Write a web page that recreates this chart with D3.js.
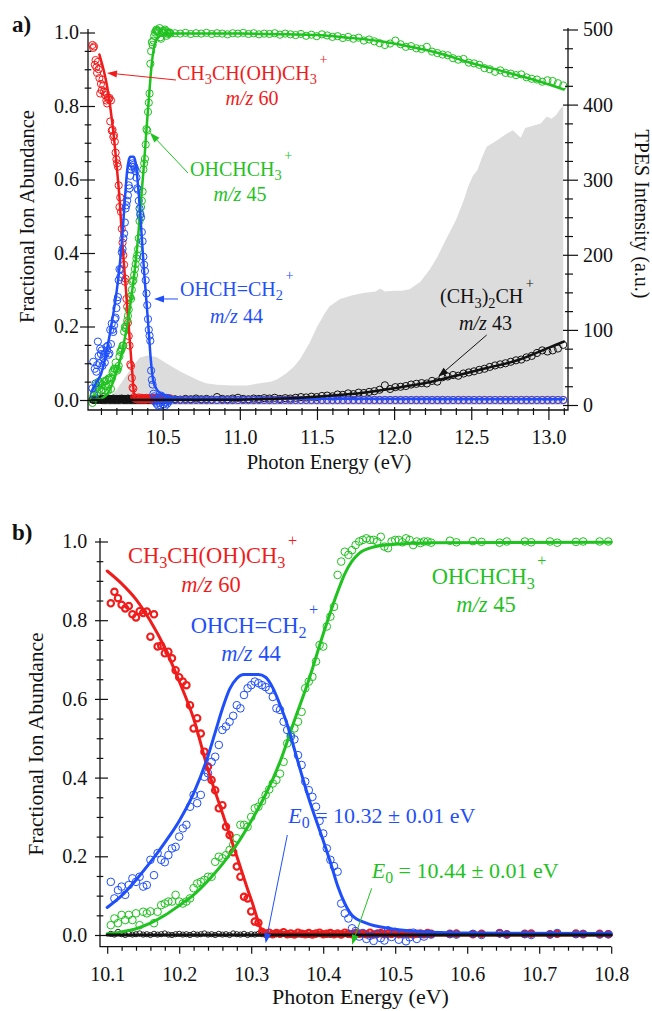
<!DOCTYPE html>
<html>
<head>
<meta charset="utf-8">
<script src="https://cdn.jsdelivr.net/npm/d3@7"></script>
<style>
  body { margin: 0; background: #fff; }
</style>
</head>
<body>
<svg id="chart" width="652" height="1011"></svg>
<script>
// ---------- data ----------

// dense scan 10.105 - 10.55 eV plus a few sparse points (panel b, reused in panel a)
var eB = [
  10.105,10.110,10.115,10.120,10.125,10.130,10.135,10.140,10.145,10.150,
  10.155,10.160,10.165,10.170,10.175,10.180,10.185,10.190,10.195,10.200,
  10.205,10.210,10.215,10.220,10.225,10.230,10.235,10.240,10.245,10.250,
  10.255,10.260,10.265,10.270,10.275,10.280,10.285,10.290,10.295,10.300,
  10.305,10.310,10.315,10.320,10.325,10.330,10.335,10.340,10.345,10.350,
  10.355,10.360,10.365,10.370,10.375,10.380,10.385,10.390,10.395,10.400,
  10.405,10.410,10.415,10.420,10.425,10.430,10.435,10.440,10.445,10.450,
  10.455,10.460,10.465,10.470,10.475,10.480,10.485,10.490,10.495,10.500,
  10.505,10.510,10.515,10.520,10.525,10.530,10.535,10.540,10.545,10.550,
  10.576,10.585,10.608,10.620,10.645,10.655,10.680,10.689,10.715,10.725,10.751,10.761,10.784,10.796
];
var redB = [
  .843,.872,.856,.839,.830,.836,.815,.807,.823,.818,
  .822,.758,.815,.733,.735,.716,.720,.703,.673,.655,
  .644,.635,.584,.525,.551,.512,.466,.428,.394,.368,
  .322,.330,.275,.254,.210,.174,.148,.097,.093,.060,
  .034,.031,.008,.004,.006,.002,.005,.003,.007,.002,
  .004,.001,.006,.003,.002,.005,.001,.004,.006,.002,
  .003,.005,.002,.004,.001,.006,.003,.002,.005,.003,
  .004,.002,.006,.001,.003,.005,.002,.004,.003,.006,
  .002,.004,.003,.005,.001,.003,.004,.002,.005,.003,
  .003,.004,.002,.003,.005,.002,.003,.004,.002,.003,.004,.002,.003,.002
];
var blueB = [
  .135,.093,.114,.123,.102,.127,.144,.135,.148,.123,
  .127,.191,.152,.208,.191,.185,.203,.220,.224,.250,
  .271,.280,.326,.356,.335,.356,.402,.411,.440,.453,
  .483,.521,.530,.542,.557,.584,.576,.610,.627,.635,
  .644,.640,.635,.630,.623,.605,.576,.572,.542,.521,
  .504,.497,.457,.432,.390,.368,.351,.326,.290,.258,
  .220,.191,.175,.161,.080,.055,.042,.017,.010,-.004,
  .005,-.010,-.002,-.015,.003,-.008,-.014,.012,-.005,.008,
  -.012,.004,-.016,-.006,.006,-.010,.002,-.004,.003,.001,
  .002,.001,.003,.000,.004,.001,.002,.000,.001,.005,.002,.003,.001,.002
];
var greenB = [
  .025,.042,.030,.051,.038,.051,.038,.055,.025,.059,
  .055,.060,.030,.059,.076,.080,.085,.085,.102,.085,
  .080,.085,.093,.119,.131,.135,.140,.148,.148,.186,
  .199,.195,.203,.216,.229,.246,.280,.280,.275,.300,
  .322,.326,.340,.356,.370,.385,.394,.410,.440,.487,
  .508,.525,.542,.567,.627,.644,.656,.695,.737,.733,
  .784,.809,.834,.915,.949,.974,.966,.978,.991,1.000,
  1.004,1.008,1.004,1.004,1.000,1.012,.987,.983,1.000,1.004,
  1.004,.998,1.008,1.004,.991,1.000,.996,1.000,1.000,.997,
  1.002,.998,1.001,.999,.997,1.000,1.000,.998,1.000,.997,.999,1.000,1.000,1.000
];
var blackB = [
  .003,.001,.008,.002,.000,.003,.001,.002,.004,.001,
  .002,.000,.003,.001,.002,.004,.001,.000,.002,.003,
  .001,.002,.000,.003,.001,.002,.004,.001,.002,.000,
  .003,.001,.002,.000,.004,.002,.001,.003,.000,.002,
  .001,.003,.002,.000,.001,.004,.002,.001,.003,.002,
  .000,.002,.001,.003,.002,.000,.004,.001,.002,.003,
  .001,.000,.002,.003,.001,.002,.000,.004,.002,.001,
  .003,.002,.000,.001,.004,.002,.003,.001,.000,.002,
  .002,.001,.003,.000,.002,.004,.001,.002,.003,.001,
  .002,.001,.003,.002,.001,.002,.003,.001,.002,.001,.002,.003,.001,.002
];

// panel a: points below 10.1 eV
var eTopLow     = [10.045,10.050,10.055,10.060,10.065,10.070,10.075,10.080,10.085,10.090,10.095,10.100];
var redTopLow   = [.966,.958,.962,.912,.925,.905,.890,.920,.900,.876,.834,.860];
var blueTopLow  = [.032,.104,.014,.085,.045,.077,.095,.159,.120,.100,.140,.125];
var greenTopLow = [-.008,.010,.020,.005,.030,.041,.020,.035,.050,.030,.045,.040];
var blackTopLow = [.001,.002,.000,.003,.001,.002,.000,.001,.003,.002,.001,.000];

// panel a: points above 10.55 eV
var eTopHigh = [
  10.580,10.614,10.648,10.682,10.716,10.750,10.784,10.818,10.852,10.886,
  10.920,10.954,10.988,11.022,11.056,11.090,11.124,11.158,11.192,11.226,
  11.260,11.294,11.328,11.362,11.396,11.430,11.464,11.498,11.532,11.566,
  11.600,11.634,11.668,11.702,11.736,11.770,11.804,11.838,11.872,11.906,
  11.940,11.974,12.008,12.042,12.076,12.110,12.144,12.178,12.212,12.246,
  12.280,12.314,12.348,12.382,12.416,12.450,12.484,12.518,12.552,12.586,
  12.620,12.654,12.688,12.722,12.756,12.790,12.824,12.858,12.892,12.926,
  12.960,12.994,13.028,13.062,13.096
];
var greenTopHigh = [
  .998,.997,.999,.996,.998,.997,.999,.996,.998,.997,
  .995,.998,.997,.999,.996,.998,.995,.997,.996,.998,
  .994,.997,.995,.993,.996,.991,.994,.990,.995,.992,
  .988,.990,.985,.988,.983,.986,.978,.981,.976,.971,
  .966,.970,.978,.968,.961,.963,.957,.955,.961,.948,
  .944,.940,.938,.930,.926,.928,.918,.916,.912,.903,
  .900,.893,.897,.890,.888,.884,.886,.878,.874,.872,
  .866,.870,.868,.862,.856
];
var blackTopHigh = [
  .002,.001,.003,.002,.004,.002,.003,.001,.008,.003,
  .002,.004,.006,.003,.002,.004,.003,.005,.004,.006,
  .003,.005,.004,.006,.008,.007,.009,.008,.011,.012,
  .010,.015,.014,.018,.016,.020,.019,.022,.024,.028,
  .040,.030,.035,.036,.038,.042,.044,.046,.045,.052,
  .050,.062,.064,.068,.066,.072,.075,.078,.082,.085,
  .090,.094,.097,.100,.104,.108,.110,.116,.120,.128,
  .135,.132,.135,.140,.150
];
// m/z 60 and m/z 44 both read as zero above 10.55 eV
var zeroTopHigh = [
  0,0,0,0,0,0,0,0,0,0, 0,0,0,0,0,0,0,0,0,0, 0,0,0,0,0,0,0,0,0,0,
  0,0,0,0,0,0,0,0,0,0, 0,0,0,0,0,0,0,0,0,0, 0,0,0,0,0,0,0,0,0,0,
  0,0,0,0,0,0,0,0,0,0, 0,0,0,0,0
];

// TPES spectrum (grey, right axis)
var tpesE = [10.10,10.15,10.20,10.26,10.30,10.35,10.40,10.46,10.52,10.57,10.62,10.68,10.73,10.78,10.85,10.95,
  11.05,11.10,11.13,11.20,11.24,11.30,11.35,11.39,11.45,11.50,11.55,11.58,11.65,11.73,11.80,11.88,11.91,11.94,
  12.00,12.05,12.10,12.17,12.23,12.28,12.33,12.40,12.45,12.48,12.51,12.54,12.57,12.60,12.67,12.72,12.77,12.80,
  12.82,12.85,12.90,12.95,12.99,13.02,13.05,13.08,13.096];
var tpesI = [0,8,20,38,50,63,66,64,56,50,44,38,33,29,27,26,
  26,28,29,31,34,42,51,61,82,104,122,131,141,146,149,151,155,151,
  152,152,154,164,180,197,218,246,272,291,305,313,330,344,353,360,366,360,
  356,369,372,375,384,381,386,395,398];

// model fits
var fitRedB   = [[10.10,.925],[10.12,.893],[10.14,.853],[10.16,.798],[10.18,.73],[10.20,.645],[10.22,.55],
                 [10.24,.42],[10.26,.31],[10.28,.20],[10.30,.09],[10.32,0],[10.80,0]];
var fitBlueB  = [[10.10,.07],[10.12,.10],[10.14,.14],[10.16,.185],[10.18,.235],[10.20,.29],[10.22,.36],[10.24,.455],
                 [10.25,.515],[10.26,.575],[10.27,.625],[10.28,.652],[10.29,.662],[10.31,.662],[10.32,.655],[10.33,.628],
                 [10.34,.585],[10.35,.535],[10.36,.472],[10.37,.408],[10.38,.347],[10.39,.293],[10.40,.24],[10.41,.185],
                 [10.42,.125],[10.43,.08],[10.44,.05],[10.46,.03],[10.49,.017],[10.53,.009],[10.60,.005],[10.80,.004]];
var fitGreenB = [[10.10,.003],[10.12,.008],[10.14,.016],[10.16,.03],[10.18,.05],[10.20,.075],[10.22,.102],[10.24,.138],
                 [10.26,.18],[10.28,.23],[10.30,.29],[10.32,.357],[10.34,.44],[10.36,.545],[10.38,.648],[10.40,.765],
                 [10.42,.872],[10.43,.918],[10.44,.95],[10.45,.97],[10.47,.986],[10.50,.993],[10.55,.997],[10.80,.998]];
var fitBlackB = [[10.10,0],[10.80,0]];

var fitRedTopStart   = [[10.09,.94]];
var fitBlueTopStart  = [[10.04,.023],[10.07,.048]];
var fitGreenTopStart = [[10.04,0],[10.07,.001]];
var fitGreenTopHigh  = [[10.8,.997],[11.0,.997],[11.3,.995],[11.5,.993],[11.7,.986],[11.9,.977],[12.1,.962],
                        [12.3,.943],[12.5,.917],[12.7,.895],[12.9,.872],[13.1,.845]];
var fitBlackTop      = [[10.04,0],[11.0,.001],[11.2,.003],[11.4,.006],[11.6,.012],[11.8,.02],[12.0,.032],[12.2,.046],
                        [12.4,.066],[12.6,.087],[12.8,.108],[13.0,.142],[13.1,.159]];

// tick labels
var fracTicks = [0, 0.2, 0.4, 0.6, 0.8, 1.0];
var tpesTicks = [0, 100, 200, 300, 400, 500];
var eTicksTop = [10.5, 11.0, 11.5, 12.0, 12.5, 13.0];
var eTicksBot = [10.1, 10.2, 10.3, 10.4, 10.5, 10.6, 10.7, 10.8];

// ---------- drawing ----------
var FONT = "'Liberation Serif', Tinos, 'Times New Roman', serif";
var RED = "#f01c1c", GREEN = "#1fc21f", BLUE = "#1f4ffa", GRAY = "#dcdcdc", INK = "#111";

var svg = d3.select("#chart");

var xT = d3.scaleLinear().domain([10.016, 13.127]).range([88, 568]);
var yT = d3.scaleLinear().domain([0, 1]).range([400, 32.5]);
var yR = d3.scaleLinear().domain([0, 500]).range([405, 29.5]);
var xB = d3.scaleLinear().domain([10.09, 10.8]).range([100, 611.2]);
var yB = d3.scaleLinear().domain([0, 1]).range([935, 541.5]);

function dots(xs, ys, x, y, color, r, sw) {
  svg.append("g").attr("fill", "none").attr("stroke", color).attr("stroke-width", sw)
    .selectAll("circle").data(d3.zip(xs, ys)).join("circle")
    .attr("cx", function(d) { return x(d[0]); })
    .attr("cy", function(d) { return y(d[1]); })
    .attr("r", r);
}

function fit(pts, x, y, color, w) {
  svg.append("path").datum(pts)
    .attr("fill", "none").attr("stroke", color).attr("stroke-width", w)
    .attr("stroke-linejoin", "round").attr("stroke-linecap", "round")
    .attr("d", d3.line().x(function(d) { return x(d[0]); }).y(function(d) { return y(d[1]); })
      .curve(d3.curveMonotoneX));
}

function ticks(orient, scale, pos, values, outLen, inLen, fmt, pad, fs) {
  var maker = orient === "left" ? d3.axisLeft : orient === "right" ? d3.axisRight : d3.axisBottom;
  var axis = maker(scale).tickValues(values).tickSize(outLen).tickSizeOuter(0).tickPadding(pad || 2)
    .tickFormat(fmt ? d3.format(fmt) : function() { return ""; });
  var g = svg.append("g")
    .attr("transform", orient === "bottom" ? "translate(0," + pos + ")" : "translate(" + pos + ",0)")
    .call(axis)
    .attr("font-size", fs || 20);
  g.select(".domain").remove();
  var lines = g.selectAll(".tick line").attr("stroke", INK).attr("stroke-width", 1.2);
  if (orient === "left") lines.attr("x1", inLen);
  if (orient === "right") lines.attr("x1", -inLen);
  if (orient === "bottom") lines.attr("y1", -inLen);
  g.selectAll(".tick text").attr("fill", INK);
  return g;
}

function label(x, y, str, size, extra) {
  var t = svg.append("text").attr("x", x).attr("y", y)
    .attr("font-size", size).attr("fill", INK).text(str);
  if (extra) extra(t);
  return t;
}

function rich(x, y, parts, size, color, anchor) {
  var t = svg.append("text").attr("x", x).attr("y", y)
    .attr("font-size", size).attr("fill", color)
    .attr("text-anchor", anchor || "start")
    .style("white-space", "pre");
  var shift = 0;
  parts.forEach(function(p) {
    var kind = p[1] || "";
    var target = kind === "sub" ? 0.22 * size : kind === "sup" ? -0.78 * size : 0;
    var ts = t.append("tspan").attr("dy", target - shift).text(p[0]);
    if (kind === "sub" || kind === "sup") ts.attr("font-size", size * 0.72);
    if (kind === "sup") ts.attr("dx", 2.5);
    if (kind === "i") ts.attr("font-style", "italic");
    shift = target;
  });
  return t;
}

function arrow(x1, y1, x2, y2, color) {
  var a = Math.atan2(y2 - y1, x2 - x1), L = 10, W = 3.5;
  var bx = x2 - L * Math.cos(a), by = y2 - L * Math.sin(a);
  svg.append("line").attr("x1", x1).attr("y1", y1).attr("x2", bx).attr("y2", by)
    .attr("stroke", color).attr("stroke-width", 1);
  svg.append("path").attr("fill", color)
    .attr("d", "M" + x2 + "," + y2 +
      "L" + (bx - W * Math.sin(a)) + "," + (by + W * Math.cos(a)) +
      "L" + (bx + W * Math.sin(a)) + "," + (by - W * Math.cos(a)) + "Z");
}

function minorOf(start, stop, step, majorEvery) {
  return d3.range(start, stop + step / 2, step)
    .map(function(v) { return Math.round(v / step) * step; })
    .filter(function(v) { return Math.round(v / step) % majorEvery !== 0; });
}

// ===== panel a =====
svg.append("path").datum(d3.zip(tpesE, tpesI))
  .attr("fill", GRAY)
  .attr("d", d3.area().x(function(d) { return xT(d[0]); }).y0(yR(0)).y1(function(d) { return yR(d[1]); }));

var dense = 90;
var eTop     = eTopLow.concat(eB.slice(0, dense), eTopHigh);
var redTop   = redTopLow.concat(redB.slice(0, dense), zeroTopHigh);
var blueTop  = blueTopLow.concat(blueB.slice(0, dense), zeroTopHigh);
var greenTop = greenTopLow.concat(greenB.slice(0, dense), greenTopHigh);
var blackTop = blackTopLow.concat(blackB.slice(0, dense), blackTopHigh);

dots(eTop, blackTop, xT, yT, INK, 3.6, 1);
dots(eTop, redTop, xT, yT, RED, 3.6, 1);
dots(eTop, greenTop, xT, yT, GREEN, 3.6, 1);
dots(eTop, blueTop, xT, yT, BLUE, 3.6, 1);

fit(fitRedTopStart.concat(fitRedB.slice(0, -1), [[10.5, 0]]), xT, yT, RED, 2.5);
fit(fitGreenTopStart.concat(fitGreenB.filter(function(p) { return p[0] < 10.6; }), fitGreenTopHigh), xT, yT, GREEN, 2.5);
fit(fitBlueTopStart.concat(fitBlueB, [[13.1, 0.002]]), xT, yT, BLUE, 2.5);
fit(fitBlackTop, xT, yT, INK, 2.5);

// frame
svg.append("path").attr("fill", "none").attr("stroke", INK).attr("stroke-width", 1.3)
  .attr("d", "M" + xT.range()[0] + ",29V410H" + xT.range()[1] + "V28");

ticks("left", yT, 88, minorOf(0, 1, 0.05, 4), 3.3, 3.3);
ticks("left", yT, 88, fracTicks, 8, 7, ".1f", 1);
ticks("right", yR, 568, minorOf(0, 500, 25, 4), 5, 3);
ticks("right", yR, 568, tpesTicks, 10, 5, "d", 5);
ticks("bottom", xT, 410, minorOf(10.1, 13.1, 0.1, 5), 5, 2);
ticks("bottom", xT, 410, eTicksTop, 10, 3, ".1f", 2)
  .selectAll(".tick text").attr("y", 34).attr("dy", null);

label(0, 0, "Fractional Ion Abundance", 20.5, function(t) {
  t.attr("transform", "translate(34,216.5) rotate(-90)").attr("text-anchor", "middle");
});
label(0, 0, "TPES Intensity (a.u.)", 20, function(t) {
  t.attr("transform", "translate(635,214) rotate(90)").attr("text-anchor", "middle");
});
label(329, 469, "Photon Energy (eV)", 20.5, function(t) { t.attr("text-anchor", "middle"); });
label(12, 32, "a)", 23, function(t) { t.attr("font-weight", "bold"); });

rich(177, 79.5, [["CH"], ["3", "sub"], ["CH(OH)CH"], ["3", "sub"], ["+", "sup"]], 20, RED);
rich(252, 105, [["m/z", "i"], [" 60"]], 20, RED, "middle");
arrow(176, 80, xT(10.139), yT(0.89), RED);

rich(190, 176, [["OHCHCH"], ["3", "sub"], ["+", "sup"]], 20, GREEN);
rich(240, 200.7, [["m/z", "i"], [" 45"]], 20, GREEN, "middle");
arrow(188, 173, xT(10.418), yT(0.727), GREEN);

rich(180, 296, [["OHCH=CH"], ["2", "sub"], ["+", "sup"]], 20, BLUE);
rich(236.5, 322.7, [["m/z", "i"], [" 44"]], 20, BLUE, "middle");
arrow(178, 299, xT(10.444), yT(0.275), BLUE);

rich(440, 303.3, [["(CH"], ["3", "sub"], [")"], ["2", "sub"], ["CH"], ["+", "sup"]], 20, INK);
rich(485.5, 330, [["m/z", "i"], [" 43"]], 20, INK, "middle");
arrow(486.7, 335, xT(12.286), yT(0.063), INK);

// ===== panel b =====
dots(eB, blackB, xB, yB, INK, 2.6, 0.9);
dots(eB, redB, xB, yB, RED, 3.2, 2.1);
dots(eB, greenB, xB, yB, GREEN, 3.8, 1);
dots(eB, blueB, xB, yB, BLUE, 3.8, 1);

fit(fitRedB, xB, yB, RED, 3);
fit(fitGreenB, xB, yB, GREEN, 3);
fit(fitBlueB, xB, yB, BLUE, 3);
fit(fitBlackB, xB, yB, INK, 3);

svg.append("path").attr("fill", "none").attr("stroke", INK).attr("stroke-width", 1.3)
  .attr("d", "M" + xB.range()[0] + ",538V946.7H" + xB.range()[1]);

ticks("left", yB, 100, minorOf(0, 1, 0.05, 4), 3.3, 3.3);
ticks("left", yB, 100, fracTicks, 5, 8, ".1f", 7.7);
ticks("bottom", xB, 946.7, minorOf(10.1, 10.8, 0.02, 5), 4, 0);
ticks("bottom", xB, 946.7, eTicksBot, 7, 0, ".1f", 2)
  .selectAll(".tick text").attr("y", 34).attr("dy", null);

label(0, 0, "Fractional Ion Abundance", 21.5, function(t) {
  t.attr("transform", "translate(43,744) rotate(-90)").attr("text-anchor", "middle");
});
label(360.5, 1004, "Photon Energy (eV)", 22, function(t) { t.attr("text-anchor", "middle"); });
label(12, 540, "b)", 23, function(t) { t.attr("font-weight", "bold"); });

rich(128, 563.3, [["CH"], ["3", "sub"], ["CH(OH)CH"], ["3", "sub"], ["+", "sup"]], 22.5, RED);
rich(211, 591.7, [["m/z", "i"], [" 60"]], 22.5, RED, "middle");
rich(190.7, 632.7, [["OHCH=CH"], ["2", "sub"], ["+", "sup"]], 22.5, BLUE);
rich(251, 661, [["m/z", "i"], [" 44"]], 22.5, BLUE, "middle");
rich(431.7, 584, [["OHCHCH"], ["3", "sub"], ["+", "sup"]], 22.5, GREEN);
rich(486, 611.7, [["m/z", "i"], [" 45"]], 22.5, GREEN, "middle");

rich(288.3, 823, [["E", "i"], ["0", "sub"], [" = 10.32 \u00b1 0.01 eV"]], 22, BLUE);
arrow(287.3, 835, xB(10.32), yB(-0.021), BLUE);
rich(371.7, 878.3, [["E", "i"], ["0", "sub"], [" = 10.44 \u00b1 0.01 eV"]], 22, GREEN);
arrow(371.7, 888.3, xB(10.44), yB(-0.025), GREEN);

// one serif face for every label, tick and title
svg.selectAll("g").attr("font-family", null);
svg.selectAll("text, tspan").style("font-family", FONT);
</script>
</body>
</html>
